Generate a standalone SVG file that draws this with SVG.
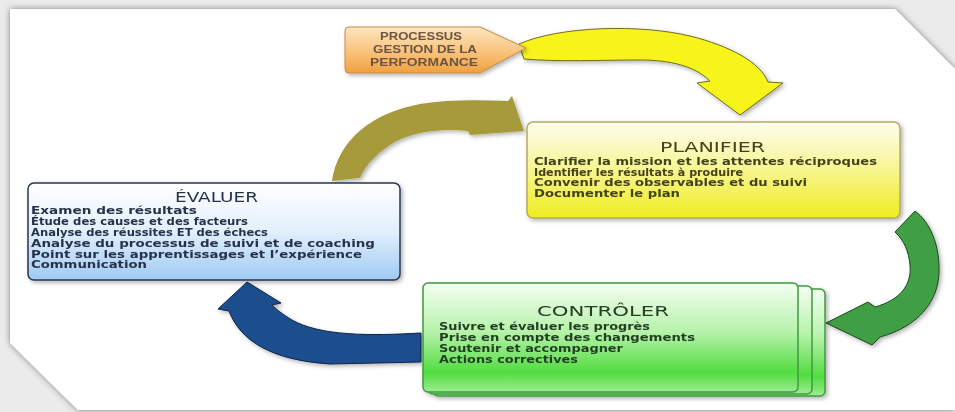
<svg xmlns="http://www.w3.org/2000/svg" width="955" height="412" viewBox="0 0 955 412">
  <defs>
    <style>
      .body { font-family: "DejaVu Sans", "Liberation Sans", sans-serif; font-size: 9.6px; font-weight: bold; }
      .title { font-family: "DejaVu Sans", "Liberation Sans", sans-serif; font-size: 14px; }
      .proc { font-family: "Liberation Sans", "DejaVu Sans", sans-serif; font-size: 10px; font-weight: bold; fill: #6b5443; text-anchor: middle; }
      .plan { fill: #44421c; }
      .eval { fill: #27324a; }
      .ctrl { fill: #243f24; }
    </style>
    <filter id="paperShadow" x="-5%" y="-5%" width="110%" height="110%">
      <feDropShadow dx="0" dy="0" stdDeviation="3" flood-color="#000" flood-opacity="0.45"/>
    </filter>
    <filter id="soft" x="-10%" y="-10%" width="125%" height="130%">
      <feDropShadow dx="2" dy="2" stdDeviation="2" flood-color="#000" flood-opacity="0.3"/>
    </filter>
    <linearGradient id="gOrange" x1="0" y1="0" x2="0" y2="1">
      <stop offset="0" stop-color="#fde6c0"/>
      <stop offset="0.55" stop-color="#f8c27a"/>
      <stop offset="1" stop-color="#f0a040"/>
    </linearGradient>
    <linearGradient id="gYellow" x1="0" y1="0" x2="0" y2="1">
      <stop offset="0" stop-color="#fdfdf0"/>
      <stop offset="0.45" stop-color="#f8f69a"/>
      <stop offset="1" stop-color="#efec1e"/>
    </linearGradient>
    <linearGradient id="gBlue" x1="0" y1="0" x2="0" y2="1">
      <stop offset="0" stop-color="#ffffff"/>
      <stop offset="0.5" stop-color="#e2effc"/>
      <stop offset="1" stop-color="#9fcaf4"/>
    </linearGradient>
    <linearGradient id="gGreen" x1="0" y1="0" x2="0" y2="1">
      <stop offset="0" stop-color="#f4fff2"/>
      <stop offset="0.45" stop-color="#b6f2aa"/>
      <stop offset="0.82" stop-color="#52dc40"/>
      <stop offset="1" stop-color="#9eec90"/>
    </linearGradient>
  </defs>

  <!-- backdrop and paper sheet with clipped corners -->
  <rect x="0" y="0" width="955" height="412" fill="#ebebeb"/>
  <polygon points="10,9 895,9 955,69 955,410 78,410 10,343" fill="#ffffff" filter="url(#paperShadow)"/>

  <!-- connectors: curved block arrows -->
  <g id="connectors" filter="url(#soft)">
    <!-- start process to plan -->
    <path id="arrow-start-plan" d="M519,44 C560,26 640,24 690,36 C730,46 760,62 768,82 L783,83 L740,115 L697,83 L710,81 C695,66 670,60 640,60 C600,60 560,62 524,59 Z" fill="#f7f41c" stroke="#6f6c22" stroke-width="1"/>
    <!-- plan to control -->
    <path id="arrow-plan-ctrl" d="M915,211 C930,222 940,245 939,273 C938,300 920,326 880,337 L872,345 L826,323 L868,302 L875,307 C900,300 912,285 910,265 C909,252 904,240 895,232 Z" fill="#3f9f45" stroke="#1d451d" stroke-width="1"/>
    <!-- control to evaluate -->
    <path id="arrow-ctrl-eval" d="M421,333 C370,336 320,336 292,320 C282,314 276,309 272,305 L281,303 L247,282 L218,309 L229,311 C240,340 270,360 330,364 L421,362 Z" fill="#1f4d8c" stroke="#0e2446" stroke-width="1"/>
    <!-- evaluate to plan -->
    <path id="arrow-eval-plan" d="M332,181 C338,140 372,113 420,104 C450,99 480,100 508,101 L512,96 L524,131 L470,135 L468,131 C440,128 410,132 390,145 C375,155 365,166 360,178 Z" fill="#a69a3b"/>
  </g>

  <!-- start node -->
  <g id="node-processus" filter="url(#soft)">
    <path d="M349,27 L480,27 L526,48 L480,73 L349,73 Q345,73 345,69 L345,31 Q345,27 349,27 Z" fill="url(#gOrange)" stroke="#c48a4a" stroke-width="1"/>
    <text class="proc" x="421" y="40" textLength="82" lengthAdjust="spacingAndGlyphs">PROCESSUS</text>
    <text class="proc" x="425" y="53" textLength="104" lengthAdjust="spacingAndGlyphs">GESTION DE LA</text>
    <text class="proc" x="424" y="66" textLength="108" lengthAdjust="spacingAndGlyphs">PERFORMANCE</text>
  </g>

  <!-- plan node -->
  <g id="node-planifier" filter="url(#soft)">
    <rect x="527" y="122" width="373" height="96" rx="6" fill="url(#gYellow)" stroke="#b3ab62" stroke-width="1.5"/>
    <text class="title plan" x="660" y="152" textLength="105" lengthAdjust="spacingAndGlyphs">PLANIFIER</text>
    <text class="body plan" x="534" y="165" textLength="343" lengthAdjust="spacingAndGlyphs">Clarifier la mission et les attentes réciproques</text>
    <text class="body plan" x="534" y="175.5" textLength="209" lengthAdjust="spacingAndGlyphs">Identifier les résultats à produire</text>
    <text class="body plan" x="534" y="186" textLength="273" lengthAdjust="spacingAndGlyphs">Convenir des observables et du suivi</text>
    <text class="body plan" x="534" y="196.5" textLength="146" lengthAdjust="spacingAndGlyphs">Documenter le plan</text>
  </g>

  <!-- evaluate node -->
  <g id="node-evaluer" filter="url(#soft)">
    <rect x="28" y="183" width="372" height="97" rx="6" fill="url(#gBlue)" stroke="#2a3550" stroke-width="1.5"/>
    <text class="title eval" x="175" y="202" textLength="83" lengthAdjust="spacingAndGlyphs">ÉVALUER</text>
    <text class="body eval" x="31" y="214" textLength="166" lengthAdjust="spacingAndGlyphs">Examen des résultats</text>
    <text class="body eval" x="31" y="225" textLength="217" lengthAdjust="spacingAndGlyphs">Étude des causes et des facteurs</text>
    <text class="body eval" x="31" y="236" textLength="237" lengthAdjust="spacingAndGlyphs">Analyse des réussites ET des échecs</text>
    <text class="body eval" x="31" y="246.5" textLength="344" lengthAdjust="spacingAndGlyphs">Analyse du processus de suivi et de coaching</text>
    <text class="body eval" x="31" y="257.5" textLength="331" lengthAdjust="spacingAndGlyphs">Point sur les apprentissages et l’expérience</text>
    <text class="body eval" x="31" y="268" textLength="116" lengthAdjust="spacingAndGlyphs">Communication</text>
  </g>

  <!-- control node: stacked sheets -->
  <g id="node-controler" filter="url(#soft)">
    <rect x="433" y="289" width="392" height="107" rx="5" fill="url(#gGreen)" stroke="#3f9a3f" stroke-width="1.5"/>
    <rect x="428" y="286" width="384" height="108" rx="5" fill="url(#gGreen)" stroke="#3f9a3f" stroke-width="1.5"/>
    <rect x="423" y="283" width="375" height="109" rx="5" fill="url(#gGreen)" stroke="#3f9a3f" stroke-width="1.5"/>
    <text class="title ctrl" x="537" y="316" font-size="16" textLength="132" lengthAdjust="spacingAndGlyphs">CONTRÔLER</text>
    <text class="body ctrl" x="439" y="330" textLength="211" lengthAdjust="spacingAndGlyphs">Suivre et évaluer les progrès</text>
    <text class="body ctrl" x="439" y="341" textLength="256" lengthAdjust="spacingAndGlyphs">Prise en compte des changements</text>
    <text class="body ctrl" x="439" y="352" textLength="184" lengthAdjust="spacingAndGlyphs">Soutenir et accompagner</text>
    <text class="body ctrl" x="439" y="363" textLength="139" lengthAdjust="spacingAndGlyphs">Actions correctives</text>
  </g>
</svg>
